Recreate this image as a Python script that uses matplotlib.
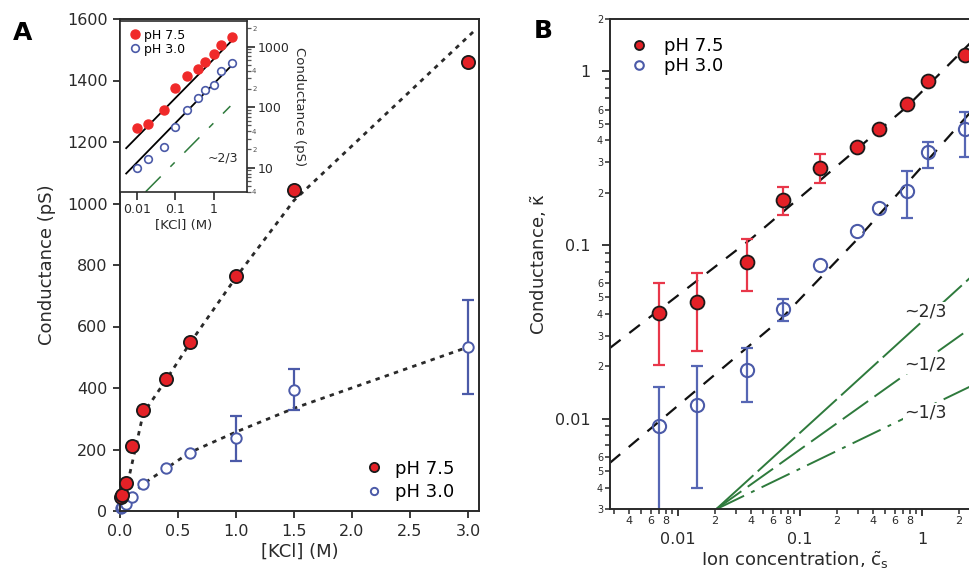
import numpy as np
import matplotlib.pyplot as plt
from matplotlib.ticker import FixedLocator, FuncFormatter, NullFormatter

plt.rcParams['font.family'] = 'DejaVu Sans'
plt.rcParams['mathtext.default'] = 'regular'

RED = '#e42127'
BLUE = '#4b5aa8'
GREEN = '#2e7a3c'
INK = '#2a2a2a'

# ---- panel A : linear scale ----
kcl = [0.01, 0.02, 0.05, 0.1, 0.2, 0.4, 0.6, 1.0, 1.5, 3.0]
g75 = [45, 53, 90, 210, 330, 430, 548, 765, 1045, 1460]
g30 = [10, 14, 22, 47, 88, 139, 190, 236, 395, 533]
g30_err = [0, 0, 0, 0, 0, 0, 0, 73, 68, 154]

# dotted model curves
fit75_x = [0.0, 0.06, 0.2, 0.4, 0.6, 1.0, 1.5, 3.07]
fit75_y = [0, 80, 317, 428, 544, 760, 1010, 1567]
fit30_x = [0.0, 0.05, 0.2, 0.6, 1.0, 1.5, 3.0]
fit30_y = [0, 30, 88, 190, 257, 334, 533]

# inset (log-log) lines
in75_x, in75_y = [0.0053, 3.3], [21, 1350]
in30_x, in30_y = [0.0053, 3.3], [8, 530]
in23_x, in23_y = [0.017, 2.7], [4, 104]

# ---- panel B : dimensionless ----
cs = [0.0070, 0.0142, 0.0365, 0.072, 0.146, 0.295, 0.447, 0.75, 1.13, 2.25]
k75 = [0.0405, 0.0467, 0.080, 0.1815, 0.278, 0.367, 0.462, 0.644, 0.876, 1.236]
k75_lo = [0.0202, 0.0244, 0.054, 0.149, 0.228, np.nan, np.nan, np.nan, np.nan, np.nan]
k75_hi = [0.0607, 0.0687, 0.108, 0.215, 0.336, np.nan, np.nan, np.nan, np.nan, np.nan]
k30 = [0.00904, 0.01189, 0.0191, 0.0427, 0.0767, 0.1203, 0.1626, 0.205, 0.3434, 0.4625]
k30_lo = [0.002, 0.0040, 0.0124, 0.0363, np.nan, np.nan, np.nan, 0.1436, 0.278, 0.3217]
k30_hi = [0.0152, 0.020, 0.0255, 0.0488, np.nan, np.nan, np.nan, 0.266, 0.3926, 0.583]

bfit75_x = [0.00277, 0.0389, 0.75, 3.0]
bfit75_y = [0.0255, 0.107, 0.624, 1.66]
bfit30_x = [0.00277, 0.0686, 0.292, 2.18, 3.0]
bfit30_y = [0.00556, 0.037, 0.107, 0.522, 0.671]

slope_x = [0.0205, 3.0]
slope23_y = [0.003, 0.073]
slope12_y = [0.003, 0.0363]
slope13_y = [0.003, 0.0163]

W, H = 969, 575
fig = plt.figure(figsize=(W / 100, H / 100), dpi=100)


def px(l, t, r, b):
    return [l / W, 1 - b / H, (r - l) / W, (b - t) / H]


# ================= panel A =================
ax = fig.add_axes(px(120, 19, 479, 511))
ax.plot(fit75_x, fit75_y, color=INK, ls=(0, (1.6, 1.9)), lw=2.0, zorder=1)
ax.plot(fit30_x, fit30_y, color=INK, ls=(0, (1.6, 1.9)), lw=2.0, zorder=1)
ax.plot(kcl, g75, 'o', ms=9.5, mfc=RED, mec='#1a1a1a', mew=1.3, zorder=3,
        label='pH 7.5', clip_on=False)
idx = [i for i, e in enumerate(g30_err) if e > 0]
ax.errorbar([kcl[i] for i in idx], [g30[i] for i in idx],
            yerr=[g30_err[i] for i in idx], fmt='none', ecolor=BLUE,
            elinewidth=1.6, capsize=4, capthick=1.6, zorder=2)
ax.plot(kcl, g30, 'o', ms=7.5, mfc='white', mec=BLUE, mew=1.4, zorder=2,
        label='pH 3.0', clip_on=False)
ax.set_xlim(0, 3.095)
ax.set_ylim(0, 1600)
ax.set_xticks([0, 0.5, 1.0, 1.5, 2.0, 2.5, 3.0])
ax.set_xticklabels(['0.0', '0.5', '1.0', '1.5', '2.0', '2.5', '3.0'])
ax.set_yticks(range(0, 1601, 200))
ax.tick_params(direction='out', length=5, width=1.3, labelsize=11.5,
               colors=INK, pad=4)
for s in ax.spines.values():
    s.set_linewidth(1.4)
    s.set_color(INK)
ax.set_xlabel('[KCl] (M)', fontsize=13, color=INK, labelpad=3)
ax.set_ylabel('Conductance (pS)', fontsize=13, color=INK, labelpad=8)
ax.legend(loc='lower right', bbox_to_anchor=(0.96, 0.0), frameon=False,
          fontsize=13, handletextpad=0.2, labelspacing=0.3,
          markerscale=0.7, borderaxespad=0.15)

# inset
ai = fig.add_axes(px(120, 21, 246.5, 192))
ai.set_xscale('log')
ai.set_yscale('log')
ai.plot(in75_x, in75_y, color='black', lw=1.3)
ai.plot(in30_x, in30_y, color='black', lw=1.3)
ai.plot(in23_x, in23_y, color=GREEN, lw=1.1, dashes=(14, 9, 4, 9))
ai.plot(kcl, g75, 'o', ms=6.5, mfc='#f02a2a', mec='#f02a2a', label='pH 7.5')
ai.plot(kcl, g30, 'o', ms=5.5, mfc='white', mec=BLUE, mew=1.2, label='pH 3.0')
ai.set_xlim(0.00366, 7.1)
ai.set_ylim(3.96, 2650)
ai.xaxis.set_major_locator(FixedLocator([0.01, 0.1, 1]))
ai.xaxis.set_minor_locator(FixedLocator([]))
ai.set_xticklabels(['0.01', '0.1', '1'])
ai.yaxis.tick_right()
ai.yaxis.set_label_position('right')
ai.yaxis.set_major_locator(FixedLocator([10, 100, 1000]))
ai.set_yticklabels(['10', '100', '1000'])
yminor = [m * 10 ** e for e in range(0, 4) for m in range(2, 10)]
ai.yaxis.set_minor_locator(FixedLocator(yminor))
ai.yaxis.set_minor_formatter(FuncFormatter(
    lambda v, p: str(int(round(v / 10 ** np.floor(np.log10(v)))))
    if round(v / 10 ** np.floor(np.log10(v))) in (2, 4) else ''))
ai.tick_params(which='major', direction='out', length=6, width=1.2,
               labelsize=9, colors=INK, pad=2)
ai.tick_params(which='minor', direction='out', length=3, width=0.9,
               labelsize=5, colors='#555555', pad=1)
for s in ai.spines.values():
    s.set_linewidth(1.2)
    s.set_color(INK)
ai.set_xlabel('[KCl] (M)', fontsize=9.5, color=INK, labelpad=2)
ai.set_ylabel('Conductance (pS)', fontsize=9.5, color=INK, rotation=270,
              labelpad=12)
ai.text(0.93, 0.2, '~2/3', transform=ai.transAxes, ha='right', va='center',
        fontsize=9, color=INK)
ai.legend(loc='upper left', frameon=False, fontsize=9, handletextpad=0.1,
          labelspacing=0.1, borderaxespad=0.2, handlelength=1.2)

# ================= panel B =================
bx = fig.add_axes(px(610, 19, 980.2, 509.3))
bx.set_xscale('log')
bx.set_yscale('log')
bx.plot(bfit75_x, bfit75_y, color='#111111', lw=1.6, dashes=(6, 5))
bx.plot(bfit30_x, bfit30_y, color='#111111', lw=1.6, dashes=(6, 5))
bx.plot(slope_x, slope23_y, color=GREEN, lw=1.4, dashes=(26, 3))
bx.plot(slope_x, slope12_y, color=GREEN, lw=1.4, dashes=(16, 4))
bx.plot(slope_x, slope13_y, color=GREEN, lw=1.4, dashes=(16, 4, 2, 4))
for lab, yv in (('~2/3', 0.0414), ('~1/2', 0.0204), ('~1/3', 0.0108)):
    bx.text(1.06, yv, lab, ha='center', va='center', fontsize=12.5,
            color=INK, bbox=dict(fc='white', ec='none', pad=0.5))


def ebar(ys, lo, hi, col):
    ii = [i for i in range(len(ys)) if not np.isnan(lo[i])]
    xx = [cs[i] for i in ii]
    yy = [ys[i] for i in ii]
    err = [[ys[i] - lo[i] for i in ii], [hi[i] - ys[i] for i in ii]]
    bx.errorbar(xx, yy, yerr=err, fmt='none', ecolor=col, elinewidth=1.6,
                capsize=4, capthick=1.6, zorder=2)


ebar(k75, k75_lo, k75_hi, '#e8374a')
ebar(k30, k30_lo, k30_hi, '#5666b4')
bx.plot(cs, k75, 'o', ms=10, mfc=RED, mec='#1a1a1a', mew=1.3, zorder=3,
        label='pH 7.5')
bx.plot(cs, k30, 'o', ms=9.5, mfc='none', mec=BLUE, mew=1.5, zorder=3,
        label='pH 3.0')
bx.set_xlim(0.00277, 3.0)
bx.set_ylim(0.003, 2.0)

bx.xaxis.set_major_locator(FixedLocator([0.01, 0.1, 1]))
bx.set_xticklabels(['0.01', '0.1', '1'])
xminor = [m * 10.0 ** e for e in (-3, -2, -1, 0) for m in range(2, 10)]
bx.xaxis.set_minor_locator(FixedLocator(xminor))
bx.xaxis.set_minor_formatter(FuncFormatter(
    lambda v, p: str(int(round(v / 10 ** np.floor(np.log10(v) + 1e-9))))
    if round(v / 10 ** np.floor(np.log10(v) + 1e-9)) in (2, 4, 6, 8) else ''))
bx.yaxis.set_major_locator(FixedLocator([0.01, 0.1, 1]))
bx.set_yticklabels(['0.01', '0.1', '1'])
bx.yaxis.set_minor_locator(FixedLocator(xminor))
bx.yaxis.set_minor_formatter(FuncFormatter(
    lambda v, p: str(int(round(v / 10 ** np.floor(np.log10(v) + 1e-9))))
    if round(v / 10 ** np.floor(np.log10(v) + 1e-9)) in (2, 3, 4, 5, 6) else ''))
bx.tick_params(axis='x', which='major', direction='out', length=5, width=1.3,
               labelsize=11.5, colors=INK, pad=11)
bx.tick_params(axis='x', which='minor', direction='out', length=3.5,
               width=1.1, labelsize=8, colors=INK, pad=1.5)
bx.tick_params(axis='y', which='major', direction='out', length=6, width=1.3,
               labelsize=11.5, colors=INK, pad=8)
bx.tick_params(axis='y', which='minor', direction='out', length=3.5,
               width=1.1, labelsize=7, colors=INK, pad=1.5)
for s in bx.spines.values():
    s.set_linewidth(1.4)
    s.set_color(INK)
bx.set_xlabel(r'Ion concentration, $\tilde{c}_s$', fontsize=13, color=INK,
              labelpad=2)
bx.set_ylabel(r'Conductance, $\tilde{\kappa}$', fontsize=13, color=INK,
              labelpad=4)
bx.legend(loc='upper left', bbox_to_anchor=(0.0, 1.0), frameon=False,
          fontsize=13, handletextpad=0.8, labelspacing=0.1, handlelength=1.2,
          markerscale=0.65, borderaxespad=0.6)

fig.text(23 / W, 1 - 33 / H, 'A', fontsize=18, fontweight='bold',
         ha='center', va='center')
fig.text(543 / W, 1 - 31 / H, 'B', fontsize=18, fontweight='bold',
         ha='center', va='center')

fig.savefig('out.png', dpi=100)
